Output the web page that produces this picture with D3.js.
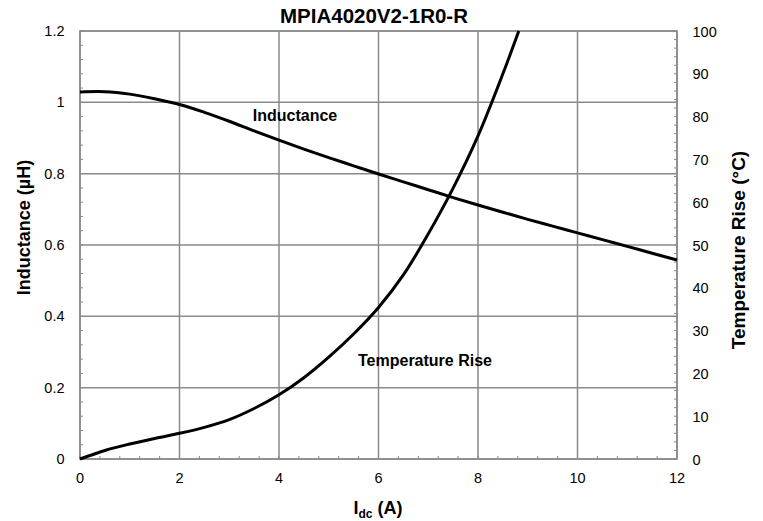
<!DOCTYPE html>
<html><head><meta charset="utf-8">
<script src="https://cdn.jsdelivr.net/npm/d3@7"></script>
<style>
body{margin:0;background:#fff;}
text{font-family:"Liberation Sans",Arial,sans-serif;}
</style></head>
<body><svg id="c" width="763" height="521"></svg>
<script>
const title = "MPIA4020V2-1R0-R";
const current = [0,0.5,1,1.5,2,2.5,3,3.5,4,4.5,5,5.5,6,6.5,7,7.5,8,8.5,9,9.5,10,10.5,11,11.5,12];
const inductance = [1.029,1.030,1.023,1.01,0.994,0.972,0.947,0.92,0.894,0.869,0.845,0.822,0.799,0.777,0.755,0.733,0.712,0.692,0.672,0.653,0.634,0.615,0.596,0.577,0.558];
const tempCurrent = [0,0.5,1,1.5,2,2.5,3,3.5,4,4.5,5,5.5,6,6.5,7,7.5,8,8.5,8.82];
const tempRise = [0,2.0,3.5,4.8,6.0,7.4,9.2,11.8,15.0,19.0,23.8,29.2,35.4,43.0,52.6,63.3,75.5,90.0,100];
const xTicks = [0,2,4,6,8,10,12];
const yLeftTicks = [0,0.2,0.4,0.6,0.8,1,1.2];
const yRightTicks = [0,10,20,30,40,50,60,70,80,90,100];

const svg = d3.select("#c");
const L=80, R=677, T=31, B=459;
const x = d3.scaleLinear().domain([0,12]).range([L,R]);
const yL = d3.scaleLinear().domain([0,1.2]).range([B,T]);
const yR = d3.scaleLinear().domain([0,100]).range([B,T]);
const grid = "#8a8a8a";

svg.append("g").selectAll("line").data(xTicks).join("line")
  .attr("x1",d=>x(d)).attr("x2",d=>x(d)).attr("y1",T).attr("y2",B)
  .attr("stroke",grid).attr("stroke-width",1.5);
svg.append("g").selectAll("line").data(yLeftTicks).join("line")
  .attr("x1",L).attr("x2",R).attr("y1",d=>yL(d)).attr("y2",d=>yL(d))
  .attr("stroke",grid).attr("stroke-width",1.5);

const minorX = d3.range(0,12.001,0.4);
svg.append("g").selectAll("line").data(minorX).join("line")
  .attr("x1",d=>x(d)).attr("x2",d=>x(d)).attr("y1",B).attr("y2",B-3)
  .attr("stroke",grid).attr("stroke-width",1);
const minorYL = d3.range(0,1.2001,0.04);
svg.append("g").selectAll("line").data(minorYL).join("line")
  .attr("x1",L).attr("x2",L+3).attr("y1",d=>yL(d)).attr("y2",d=>yL(d))
  .attr("stroke",grid).attr("stroke-width",1);
const minorYR = d3.range(0,100.001,2);
svg.append("g").selectAll("line").data(minorYR).join("line")
  .attr("x1",R).attr("x2",R-3).attr("y1",d=>yR(d)).attr("y2",d=>yR(d))
  .attr("stroke",grid).attr("stroke-width",1);

svg.append("rect").attr("x",L).attr("y",T).attr("width",R-L).attr("height",B-T)
  .attr("fill","none").attr("stroke",grid).attr("stroke-width",1.5);

const tickFont = 14.5;
svg.append("g").selectAll("text").data(xTicks).join("text")
  .attr("x",d=>x(d)).attr("y",B+24).attr("text-anchor","middle")
  .attr("font-size",tickFont).text(d=>d);
svg.append("g").selectAll("text").data(yLeftTicks).join("text")
  .attr("x",64.5).attr("y",d=>yL(d)+5).attr("text-anchor","end")
  .attr("font-size",tickFont).text(d=>d);
svg.append("g").selectAll("text").data(yRightTicks).join("text")
  .attr("x",692.5).attr("y",d=>yR(d)+5.5).attr("text-anchor","start")
  .attr("font-size",tickFont).text(d=>d);

const lineL = d3.line().x((d,i)=>x(current[i])).y(d=>yL(d)).curve(d3.curveCatmullRom);
svg.append("path").attr("d",lineL(inductance)).attr("fill","none")
  .attr("stroke","#000").attr("stroke-width",3);
const lineT = d3.line().x((d,i)=>x(tempCurrent[i])).y(d=>yR(d)).curve(d3.curveCatmullRom);
svg.append("path").attr("d",lineT(tempRise)).attr("fill","none")
  .attr("stroke","#000").attr("stroke-width",3);

svg.append("text").attr("x",295).attr("y",121).attr("text-anchor","middle")
  .attr("font-size",16).attr("font-weight","bold").text("Inductance");
svg.append("text").attr("x",425).attr("y",366).attr("text-anchor","middle")
  .attr("font-size",16).attr("font-weight","bold").text("Temperature Rise");

svg.append("text").attr("x",374).attr("y",23).attr("text-anchor","middle")
  .attr("font-size",20.5).attr("font-weight","bold").text(title);

svg.append("text").attr("transform",`translate(30,227.5) rotate(-90)`)
  .attr("text-anchor","middle").attr("font-size",18).attr("font-weight","bold")
  .text("Inductance (µH)");
svg.append("text").attr("transform",`translate(745,250) rotate(-90)`)
  .attr("text-anchor","middle").attr("font-size",19).attr("font-weight","bold")
  .text("Temperature Rise (°C)");
const xl = svg.append("text").attr("x",378).attr("y",514).attr("text-anchor","middle")
  .attr("font-size",18).attr("font-weight","bold");
xl.append("tspan").text("I");
xl.append("tspan").attr("font-size",12).attr("dy",4).text("dc");
xl.append("tspan").attr("dy",-4).text(" (A)");
</script></body></html>
